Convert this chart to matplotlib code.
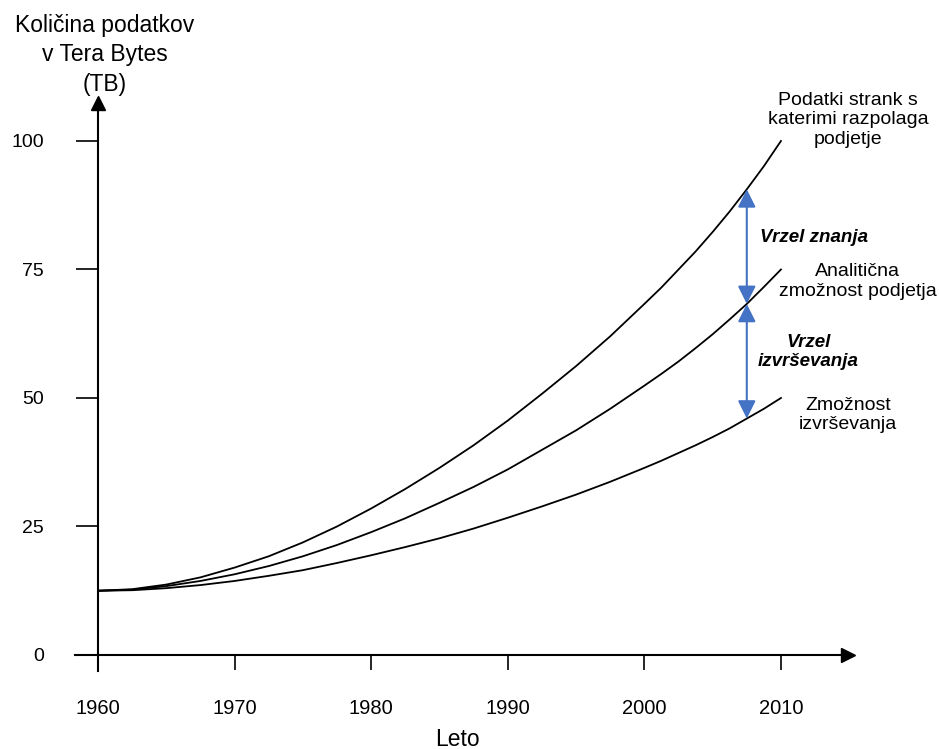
import numpy as np
import matplotlib
matplotlib.use("Agg")
import matplotlib.pyplot as plt

plt.rcParams['font.family'] = ['Liberation Sans', 'DejaVu Sans']

# values
years = [1960, 1962.5, 1965, 1967.5, 1970, 1972.5, 1975, 1977.5, 1980, 1982.5, 1985,
         1987.5, 1990, 1992.5, 1995, 1997.5, 2000, 2001.25, 2002.5, 2003.75, 2005,
         2006.25, 2007.5, 2008.75, 2010]
podatki = [12.5, 12.8, 13.7, 15.1, 17.0, 19.2, 21.9, 25.0, 28.5, 32.3, 36.4,
           40.8, 45.6, 50.8, 56.2, 62.0, 68.3, 71.5, 75.0, 78.5, 82.3,
           86.3, 90.6, 95.1, 100.0]
analiticna = [12.5, 12.7, 13.4, 14.4, 15.7, 17.3, 19.2, 21.4, 23.9, 26.6, 29.6,
              32.7, 36.1, 39.9, 43.7, 47.9, 52.4, 54.7, 57.1, 59.7, 62.4,
              65.3, 68.3, 71.6, 75.0]
izvrsevanje = [12.5, 12.6, 13.0, 13.6, 14.4, 15.4, 16.5, 17.9, 19.4, 21.0, 22.7,
               24.6, 26.7, 28.9, 31.2, 33.7, 36.4, 37.8, 39.3, 40.8, 42.4,
               44.1, 46.0, 47.9, 50.0]

xticks = [1960, 1970, 1980, 1990, 2000, 2010]
yticks = [0, 25, 50, 75, 100]
gap_idx = 22  # 2007.5, where the gap arrows sit

blue = '#4472C4'

fig = plt.figure(figsize=(9.39, 7.49), dpi=100)
ax = fig.add_axes([0, 0, 1, 1])
ax.set_xlim(1952.83, 2021.57)
ax.set_ylim(-18.29, 127.43)

for s in ['top', 'right']:
    ax.spines[s].set_visible(False)
ax.spines['left'].set_position(('data', 1960))
ax.spines['bottom'].set_position(('data', 0))
ax.spines['left'].set_bounds(-3.1, 107)
ax.spines['bottom'].set_bounds(1958.3, 2014.5)
ax.spines['left'].set_linewidth(1.5)
ax.spines['bottom'].set_linewidth(1.5)
ax.plot(1960, 107.4, '^k', ms=10, clip_on=False)
ax.plot(2014.9, 0, '>k', ms=10, clip_on=False)

ax.set_xticks(xticks)
ax.set_yticks(yticks)
ax.tick_params(axis='x', direction='out', length=11, width=1.2, pad=21, labelsize=14.5)
ax.tick_params(axis='y', direction='out', length=16, width=1.2, pad=23, labelsize=14)

for series in [podatki, analiticna, izvrsevanje]:
    ax.plot(years, series, color='black', lw=1.3)

# gap arrows
gx = years[gap_idx]
for lo, hi in [(analiticna, podatki), (izvrsevanje, analiticna)]:
    ax.annotate('', xy=(gx, hi[gap_idx]), xytext=(gx, lo[gap_idx]),
                arrowprops=dict(arrowstyle='<|-|>', color=blue, lw=1.5,
                                mutation_scale=27, shrinkA=0, shrinkB=0))

ax.text(2008.5, 81.3, 'Vrzel znanja', fontsize=13.5, fontweight='bold',
        fontstyle='italic', va='center', ha='left')
ax.text(2012.0, 59.0, 'Vrzel\nizvrševanja', fontsize=13.5, fontweight='bold',
        fontstyle='italic', va='center', ha='center', linespacing=1.15)

ax.text(2014.9, 104.1, 'Podatki strank s\nkaterimi razpolaga\npodjetje',
        fontsize=14, ha='center', va='center', linespacing=1.22)
ax.text(2015.6, 72.6, 'Analitična\nzmožnost podjetja',
        fontsize=14, ha='center', va='center', linespacing=1.22)
ax.text(2014.9, 46.7, 'Zmožnost\nizvrševanja',
        fontsize=14, ha='center', va='center', linespacing=1.22)

fig.text(105 / 939, 1 - 55 / 749, 'Količina podatkov\nv Tera Bytes\n(TB)',
         fontsize=16.5, ha='center', va='center', linespacing=1.38)
fig.text(457 / 939, 1 - 739 / 749, 'Leto', fontsize=16.5, ha='center', va='center')

fig.savefig('out.png', dpi=100)
